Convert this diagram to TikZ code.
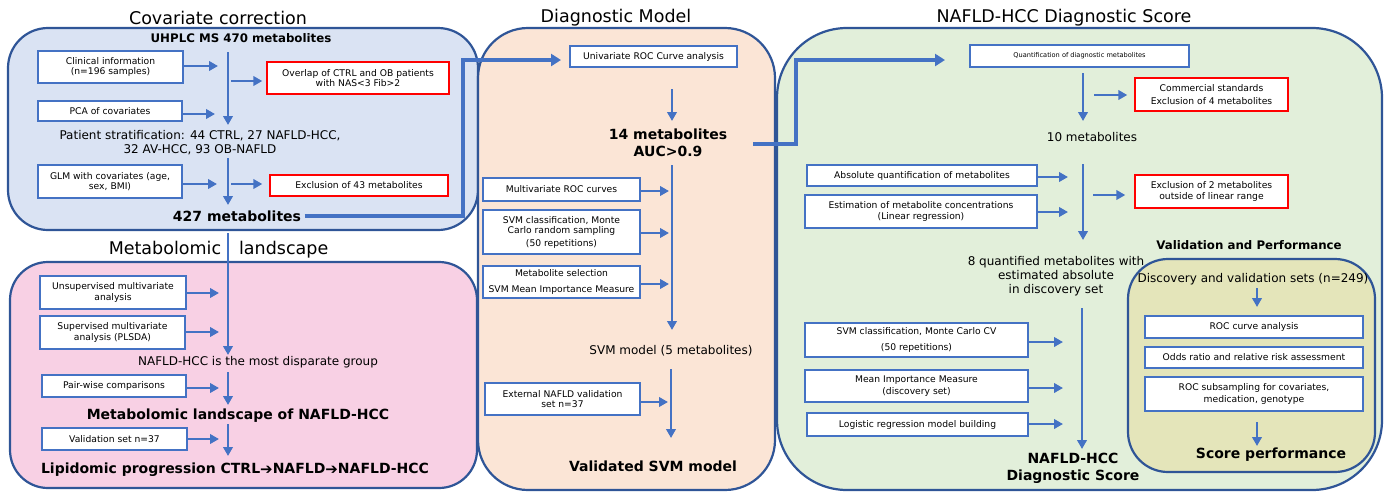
\documentclass[tikz,border=0pt]{standalone}
\usepackage{fontspec}
\setmainfont{DejaVu Sans}
\usetikzlibrary{arrows.meta}
\definecolor{pborder}{HTML}{2F5597}
\definecolor{bbox}{HTML}{4472C4}
\definecolor{arrc}{HTML}{4472C4}
\definecolor{bluefill}{HTML}{DAE3F3}
\definecolor{pinkfill}{HTML}{F8D0E4}
\definecolor{orangefill}{HTML}{FBE5D6}
\definecolor{greenfill}{HTML}{E2EFDA}
\definecolor{olivefill}{HTML}{E4E5BA}
\definecolor{redbox}{HTML}{FF0000}
\tikzset{
  panel/.style={draw=pborder, line width=2.2pt},
  box/.style={draw=bbox, line width=1.4pt, fill=white, align=center, inner sep=1pt, font=\fontsize{9.2}{10.5}\selectfont},
  rbox/.style={box, draw=redbox},
  arr/.style={draw=arrc, line width=2.9pt, -{Triangle[length=9pt,width=9.5pt]}},
  thickarr/.style={draw=arrc, line width=4pt, -{Triangle[length=10pt,width=12pt]}},
  ttl/.style={font=\fontsize{17.5}{20}\selectfont},
  mid/.style={font=\fontsize{12}{14}\selectfont, align=center},
  bld/.style={font=\bfseries\fontsize{14}{17}\selectfont, align=center},
  bldsm/.style={font=\bfseries\fontsize{11.8}{14}\selectfont, align=center},
}
\newcommand{\hvarrow}{{\mdseries\fontsize{15}{15}\selectfont\raisebox{-0.5pt}{➔}}}
\begin{document}
\begin{tikzpicture}[x=1pt,y=-1pt]
\useasboundingbox (0,0) rectangle (1389,491);
% ---------- panels ----------
\draw[panel, fill=bluefill, rounded corners=40pt] (8,28) rectangle (478,230);
\draw[panel, fill=pinkfill, rounded corners=38pt] (10,262) rectangle (477,488);
\draw[panel, fill=orangefill, rounded corners=50pt] (478,28) rectangle (775,490);
\draw[panel, fill=greenfill, rounded corners=70pt] (777,28) rectangle (1382,490);
\draw[panel, fill=olivefill, rounded corners=40pt] (1128,259) rectangle (1375,472);

% ---------- titles ----------
\node[ttl] (t1) at (218,18) {Covariate correction};
\node[ttl] (t2) at (218.5,250) {Metabolomic\hspace{18pt}landscape};
\node[ttl] (t3) at (616,18) {Diagnostic Model};
\node[ttl] (t4) at (1064,18) {NAFLD-HCC Diagnostic Score};

% ---------- panel 1: covariate correction ----------
\node[bldsm] (uhplc) at (241,38) {UHPLC MS 470 metabolites};
\node[box, minimum width=145pt, minimum height=32pt] (clin) at (110.5,67) {Clinical information\\(n=196 samples)};
\node[box, minimum width=144pt, minimum height=20pt] (pca) at (110,111) {PCA of covariates};
\node[box, minimum width=144pt, minimum height=33pt] (glm) at (110,181.5) {GLM with covariates (age,\\sex, BMI)};
\node[rbox, minimum width=182pt, minimum height=32pt] (overlap) at (358,78) {Overlap of CTRL and OB patients\\with NAS<3 Fib>2};
\node[rbox, minimum width=178pt, minimum height=21pt] (excl43) at (359,185.5) {Exclusion of 43 metabolites};
\node[mid] (strat) at (200,143) {Patient stratification: 44 CTRL, 27 NAFLD-HCC,\\32 AV-HCC, 93 OB-NAFLD};
\node[bld] (m427) at (237,216) {427 metabolites};

\coordinate (a1s) at (228,52);  \coordinate (a1e) at (228,125);
\coordinate (a2e) at (218,66);
\coordinate (a3s) at (231,81);
\coordinate (a4e) at (215,114);
\coordinate (a5s) at (228,158); \coordinate (a5e) at (228,205);
\coordinate (a6e) at (217,184);
\coordinate (a7s) at (231,184);
\draw[arr] (a1s) -- (a1e);
\draw[arr] (clin.east |- a2e) -- (a2e);
\draw[arr] (a3s) -- ([xshift=-4pt]a3s -| overlap.west);
\draw[arr] (pca.east |- a4e) -- (a4e);
\draw[arr] (a5s) -- (a5e);
\draw[arr] (glm.east |- a6e) -- (a6e);
\draw[arr] (a7s) -- ([xshift=-7pt]a7s -| excl43.west);

% ---------- thick connector 1 ----------
\coordinate (k1) at (463,60);
\coordinate (k1e) at (561,60);
\draw[thickarr] (m427.east) -- (m427.east -| k1) -- (k1) -- (k1e);

% ---------- panel 2: metabolomic landscape ----------
\node[box, minimum width=146pt, minimum height=33pt] (unsup) at (113,292.5) {Unsupervised multivariate\\analysis};
\node[box, minimum width=145pt, minimum height=33pt] (sup) at (112.5,332.5) {Supervised multivariate\\analysis (PLSDA)};
\node[box, minimum width=144pt, minimum height=22pt] (pair) at (114,386) {Pair-wise comparisons};
\node[box, minimum width=145pt, minimum height=22pt] (val37) at (114.5,439) {Validation set n=37};
\node[mid] (disp) at (258,362) {NAFLD-HCC is the most disparate group};
\node[bld] (mland) at (238,416) {Metabolomic landscape of NAFLD-HCC};
\node[bld] (lipid) at (235,470) {Lipidomic progression CTRL\hvarrow NAFLD\hvarrow NAFLD-HCC};

\coordinate (b1s) at (228,233); \coordinate (b1e) at (228,355);
\coordinate (b2e) at (219,293);
\coordinate (b3e) at (219,332);
\coordinate (b4s) at (228,372); \coordinate (b4e) at (228,405);
\coordinate (b5e) at (219,388);
\coordinate (b6s) at (228,424); \coordinate (b6e) at (228,456);
\coordinate (b7e) at (219,439);
\draw[arr] (b1s) -- (b1e);
\draw[arr] (unsup.east |- b2e) -- (b2e);
\draw[arr] (sup.east |- b3e) -- (b3e);
\draw[arr] (b4s) -- (b4e);
\draw[arr] (pair.east |- b5e) -- (b5e);
\draw[arr] (b6s) -- (b6e);
\draw[arr] (val37.east |- b7e) -- (b7e);

% ---------- panel 3: diagnostic model ----------
\node[box, minimum width=167pt, minimum height=21pt] (univ) at (653.5,56.5) {Univariate ROC Curve analysis};
\node[bld] (m14) at (668,143) {14 metabolites\\AUC>0.9};
\node[box, minimum width=157pt, minimum height=23pt] (mroc) at (561.5,189.5) {Multivariate ROC curves};
\node[box, minimum width=157pt, minimum height=44pt] (svmmc) at (561.5,232) {SVM classification, Monte\\Carlo random sampling\\[2pt](50 repetitions)};
\node[box, minimum width=157pt, minimum height=32pt] (msel) at (561.5,282) {Metabolite selection\\[5pt]SVM Mean Importance Measure};
\node[mid] (svm5) at (671,351) {SVM model (5 metabolites)};
\node[box, minimum width=155pt, minimum height=32pt] (ext) at (562.5,399) {External NAFLD validation\\set n=37};
\node[bld] (vsvm) at (653,466) {Validated SVM model};

\coordinate (c1s) at (672,89);  \coordinate (c1e) at (672,121);
\coordinate (c2s) at (672,165); \coordinate (c2e) at (672,330);
\coordinate (c3s) at (671,369); \coordinate (c3e) at (671,438);
\coordinate (cm1) at (669,191);
\coordinate (cm2) at (669,233);
\coordinate (cm3) at (669,284);
\coordinate (cm4) at (668,402);
\draw[arr] (c1s) -- (c1e);
\draw[arr] (c2s) -- (c2e);
\draw[arr] (c3s) -- (c3e);
\draw[arr] (mroc.east |- cm1) -- (cm1);
\draw[arr] (svmmc.east |- cm2) -- (cm2);
\draw[arr] (msel.east |- cm3) -- (cm3);
\draw[arr] (ext.east |- cm4) -- (cm4);

% ---------- thick connector 2 ----------
\coordinate (k2s) at (753,144);
\coordinate (k2) at (796,60);
\coordinate (k2e) at (945,60);
\draw[thickarr] (k2s) -- (k2s -| k2) -- (k2) -- (k2e);

% ---------- panel 4: diagnostic score ----------
\node[box, minimum width=219pt, minimum height=22pt, font=\fontsize{6.6}{8}\selectfont] (quant) at (1079.5,56) {Quantification of diagnostic metabolites};
\node[rbox, minimum width=153pt, minimum height=33pt] (comm) at (1211.5,94.5) {Commercial standards\\[2pt]Exclusion of 4 metabolites};
\node[mid] (m10) at (1092,137) {10 metabolites};
\node[box, minimum width=230pt, minimum height=21pt] (absq) at (922,175.5) {Absolute quantification of metabolites};
\node[box, minimum width=232pt, minimum height=33pt] (estm) at (921,211.5) {Estimation of metabolite concentrations\\(Linear regression)};
\node[rbox, minimum width=153pt, minimum height=33pt] (excl2) at (1211.5,191.5) {Exclusion of 2 metabolites\\outside of linear range};
\node[bldsm] (vp) at (1249,245) {Validation and Performance};
\node[mid] (m8) at (1056,276) {8 quantified metabolites with\\estimated absolute\\in discovery set};
\node[box, minimum width=223pt, minimum height=34pt] (svmcv) at (916.5,340) {SVM classification, Monte Carlo CV\\[5pt](50 repetitions)};
\node[box, minimum width=223pt, minimum height=32pt] (mim) at (916.5,386) {Mean Importance Measure\\[1pt](discovery set)};
\node[box, minimum width=221pt, minimum height=23pt] (logreg) at (917.5,424.5) {Logistic regression model building};
\node[bld] (score) at (1073,468) {NAFLD-HCC\\Diagnostic Score};

\coordinate (d1s) at (1083,73);  \coordinate (d1e) at (1083,121);
\coordinate (d2s) at (1094,95);
\coordinate (d3s) at (1083,164); \coordinate (d3e) at (1083,240);
\coordinate (d4s) at (1093,195);
\coordinate (d5s) at (1082,308); \coordinate (d5e) at (1082,449);
\coordinate (dm1) at (1068,177);
\coordinate (dm2) at (1068,212);
\coordinate (dm3) at (1063,342);
\coordinate (dm4) at (1063,388);
\coordinate (dm5) at (1063,424);
\draw[arr] (d1s) -- (d1e);
\draw[arr] (d2s) -- ([xshift=-7pt]d2s -| comm.west);
\draw[arr] (d3s) -- (d3e);
\draw[arr] (d4s) -- ([xshift=-9pt]d4s -| excl2.west);
\draw[arr] (d5s) -- (d5e);
\draw[arr] (absq.east |- dm1) -- (dm1);
\draw[arr] (estm.east |- dm2) -- (dm2);
\draw[arr] (svmcv.east |- dm3) -- (dm3);
\draw[arr] (mim.east |- dm4) -- (dm4);
\draw[arr] (logreg.east |- dm5) -- (dm5);

% ---------- validation and performance ----------
\node[mid] (dvs) at (1253,279) {Discovery and validation sets (n=249)};
\node[box, minimum width=218pt, minimum height=22pt] (roc) at (1254,327) {ROC curve analysis};
\node[box, minimum width=218pt, minimum height=21pt] (odds) at (1254,357.5) {Odds ratio and relative risk assessment};
\node[box, minimum width=218pt, minimum height=34pt] (rocsub) at (1254,394) {ROC subsampling for covariates,\\[2pt]medication, genotype};
\node[bld] (sperf) at (1271,455) {Score performance};
\coordinate (e1s) at (1257,288); \coordinate (e1e) at (1257,307);
\coordinate (e2s) at (1257,422); \coordinate (e2e) at (1257,446);
\draw[arr] (e1s) -- (e1e);
\draw[arr] (e2s) -- (e2e);
\end{tikzpicture}
\end{document}
